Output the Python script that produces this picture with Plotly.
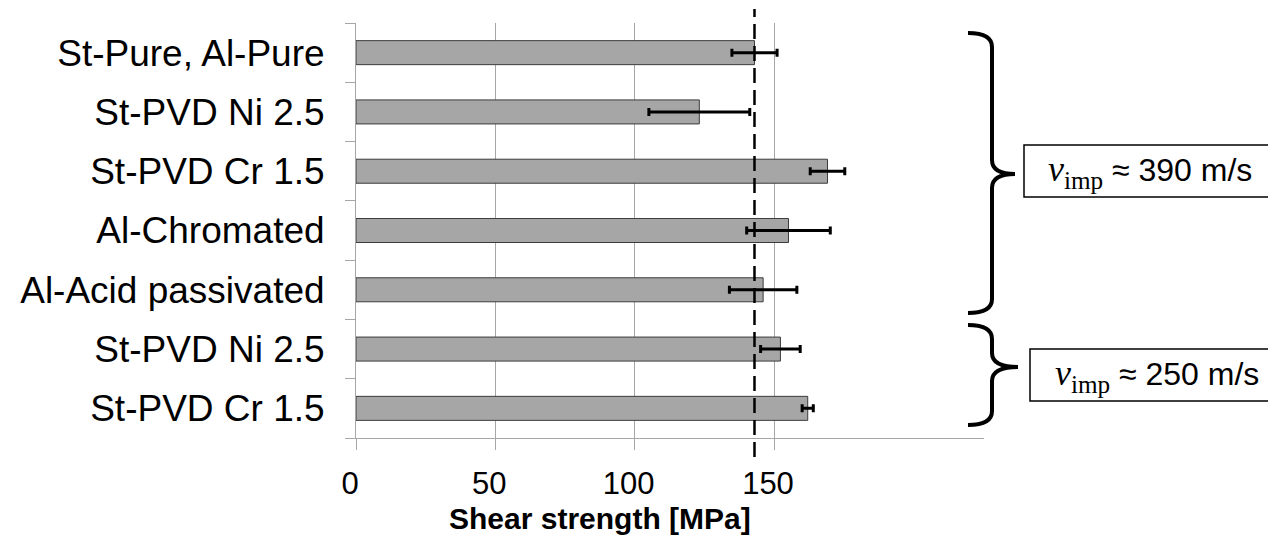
import plotly.graph_objects as go

# ---- data ----
categories = ["St-Pure, Al-Pure", "St-PVD Ni 2.5", "St-PVD Cr 1.5", "Al-Chromated",
              "Al-Acid passivated", "St-PVD Ni 2.5", "St-PVD Cr 1.5"]
shear_strength = [143.0, 123.2, 169.2, 155.2, 146.1, 152.3, 162.1]
shear_error = [8.1, 18.1, 6.2, 15.0, 12.1, 7.1, 2.0]
reference_value = 143.0
x_ticks = [0, 50, 100, 150]
group_labels = ["390", "250"]

PAGE_W, PAGE_H = 1276, 553
OFF = 8  # default body margin of the html page
W, H = PAGE_W - OFF, PAGE_H - OFF
L, R, T, B = 356, 984, 23, 438  # plot area in page pixels

def px(x):
    return (x - L) / (R - L)

def py(y):
    return (B - y) / (B - T)

ypos = list(range(len(categories)))

fig = go.Figure()
fig.add_trace(go.Bar(
    x=shear_strength, y=ypos, orientation="h", width=0.405,
    marker=dict(color="#a6a6a6", line=dict(color="#3c3c3c", width=1)),
    error_x=dict(type="data", array=shear_error, color="black", thickness=3, width=4),
    showlegend=False, hoverinfo="skip",
))

shapes = []
# reference dashed line
shapes.append(dict(type="line", xref="x", yref="paper", x0=reference_value, x1=reference_value,
                   y0=py(457), y1=py(9), line=dict(color="black", width=2.5, dash="15px,7px")))

# braces
def brace(top, bottom, mid, xl, xv, xt):
    c = 14
    p = (f"M {px(xl)},{py(top)} Q {px(xv)},{py(top)} {px(xv)},{py(top + c)} "
         f"L {px(xv)},{py(mid - c)} Q {px(xv)},{py(mid)} {px(xt)},{py(mid)} "
         f"Q {px(xv)},{py(mid)} {px(xv)},{py(mid + c)} "
         f"L {px(xv)},{py(bottom - c)} Q {px(xv)},{py(bottom)} {px(xl)},{py(bottom)}")
    return dict(type="path", xref="paper", yref="paper", path=p,
                line=dict(color="black", width=4))

shapes.append(brace(33, 313, 174, 968, 992, 1015))
shapes.append(brace(325, 425, 367, 968, 992, 1018))

# boxes
shapes.append(dict(type="rect", xref="paper", yref="paper", x0=px(1024), x1=px(1274),
                   y0=py(197), y1=py(145), line=dict(color="black", width=1.5)))
shapes.append(dict(type="rect", xref="paper", yref="paper", x0=px(1030), x1=px(1274),
                   y0=py(401), y1=py(349), line=dict(color="black", width=1.5)))

annotations = []
for lab, xc, yc in [(group_labels[0], 1150, 171), (group_labels[1], 1157, 375)]:
    annotations.append(dict(
        xref="paper", yref="paper", x=px(xc), y=py(yc), xanchor="center", yanchor="middle",
        text=(f"<span style='font-family:Liberation Serif;font-size:36px'><i>v</i><sub>imp</sub></span>"
              f" ≈ {lab} m/s"),
        showarrow=False, font=dict(family="Liberation Sans, Arial", size=32, color="black"),
    ))

annotations.append(dict(
    xref="paper", yref="paper", x=px(600), y=py(518), xanchor="center", yanchor="middle",
    text="<b>Shear strength [MPa]</b>", showarrow=False,
    font=dict(family="Liberation Sans, Arial", size=30, color="black"),
))

fig.update_layout(
    template="none",
    width=W, height=H,
    margin=dict(l=L - OFF, r=PAGE_W - R, t=T - OFF, b=PAGE_H - B, pad=0),
    paper_bgcolor="white", plot_bgcolor="white",
    shapes=shapes, annotations=annotations,
    xaxis=dict(
        automargin=False,
        range=[0, (R - L) / ((773.7 - 355.7) / 150)],
        tickvals=x_ticks, ticktext=[str(t) for t in x_ticks],
        showgrid=True, gridcolor="#a6a6a6", gridwidth=1,
        zeroline=False, showline=True, linecolor="#a6a6a6", linewidth=1,
        ticks="outside", ticklen=11, tickcolor="#a6a6a6", tickwidth=1,
        tickfont=dict(family="Liberation Sans, Arial", size=31, color="black"),
        ticklabelstandoff=7, ticklabelshift=-6,
    ),
    yaxis=dict(
        automargin=False,
        range=[len(categories) - 0.5, -0.5],
        tickvals=ypos, ticktext=categories,
        showgrid=False, zeroline=False,
        showline=True, linecolor="#a6a6a6", linewidth=1,
        ticks="", ticklabelstandoff=23,
        tickfont=dict(family="Liberation Sans, Arial", size=37, color="black"),
        minor=dict(tickvals=[i - 0.5 for i in range(len(categories) + 1)], ticks="outside",
                   ticklen=10, tickcolor="#a6a6a6", tickwidth=1, showgrid=False),
    ),
)

fig.write_html("out.html")
